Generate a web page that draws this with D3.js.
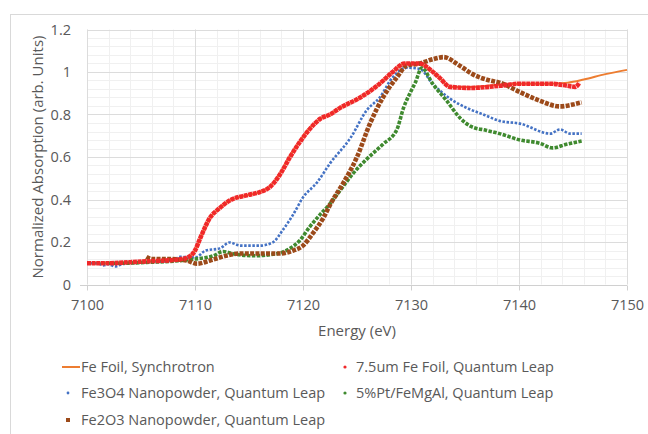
<!DOCTYPE html>
<html><head><meta charset="utf-8">
<script src="https://cdn.jsdelivr.net/npm/d3@7"></script>
<style>
html,body{margin:0;padding:0;background:#fff;}
text{font-family:"Open Sans",sans-serif;fill:#595959;}
</style></head>
<body><svg id="c" width="648" height="434"></svg>
<script>
// ---- data ----
const xTicks = [7100, 7110, 7120, 7130, 7140, 7150];
const yTicks = [0, 0.2, 0.4, 0.6, 0.8, 1, 1.2];
const yTickLabels = ["0", "0.2", "0.4", "0.6", "0.8", "1", "1.2"];

const redE = [7100,7102,7104,7106,7108,7109.2,7110,7110.5,7111.4,7112.3,7113.2,7114.8,7116,7116.9,7117.9,7118.8,7119.7,7120.6,7121.6,7122.5,7123.4,7125.3,7127.1,7128.3,7129.4,7130.8,7131.8,7132.7,7133.6,7135.5,7138.2,7140.1,7142.9,7144.5,7145.2,7145.6];
const redV = [0.10,0.10,0.105,0.11,0.115,0.125,0.16,0.22,0.315,0.36,0.395,0.42,0.435,0.457,0.52,0.60,0.67,0.73,0.78,0.80,0.83,0.88,0.945,1.0,1.04,1.04,1.01,0.97,0.93,0.925,0.935,0.945,0.945,0.935,0.93,0.95];

const orangeE = [7100,7102,7104,7106,7108,7109.2,7110,7110.5,7111.4,7112.3,7113.2,7114.8,7116,7116.9,7117.9,7118.8,7119.7,7120.6,7121.6,7122.5,7123.4,7125.3,7127.1,7128.3,7129.4,7130.8,7131.8,7132.7,7133.6,7135.5,7138.2,7140.1,7142.9,7144.5,7146,7148,7150];
const orangeV = [0.10,0.10,0.105,0.11,0.115,0.125,0.16,0.22,0.315,0.36,0.395,0.42,0.435,0.46,0.525,0.605,0.675,0.735,0.78,0.80,0.83,0.88,0.945,1.0,1.04,1.04,1.01,0.97,0.93,0.93,0.94,0.945,0.945,0.95,0.965,0.99,1.01];

const blueE = [7100,7101,7101.5,7102,7102.6,7103.2,7104,7106,7108,7108.6,7110,7111,7112.3,7113.2,7114.2,7116,7117.2,7118.1,7119.1,7120,7121.3,7122.5,7124.4,7125.9,7127.1,7128.3,7129.6,7130.8,7132,7133.6,7135.2,7136.7,7138.2,7140.1,7142.9,7143.8,7144.7,7145.8];
const blueV = [0.10,0.10,0.09,0.095,0.085,0.095,0.10,0.105,0.115,0.13,0.127,0.16,0.17,0.198,0.183,0.183,0.198,0.254,0.33,0.41,0.48,0.57,0.69,0.82,0.88,0.975,1.02,1.015,0.945,0.875,0.83,0.80,0.77,0.757,0.71,0.73,0.71,0.71];

const greenE = [7100,7103,7106,7108,7110,7111.7,7112.6,7113.5,7115.4,7117.6,7118.8,7119.7,7120.6,7121.6,7122.5,7123.4,7124.6,7125.9,7127.4,7128.7,7129.3,7129.9,7130.4,7131,7132,7133.3,7134.5,7135.5,7137,7138.2,7140.1,7141.9,7143.1,7144.4,7145.8];
const greenV = [0.10,0.10,0.105,0.11,0.12,0.135,0.155,0.145,0.135,0.145,0.17,0.207,0.27,0.33,0.38,0.44,0.52,0.59,0.66,0.73,0.83,0.90,0.95,1.02,0.945,0.865,0.786,0.745,0.725,0.71,0.68,0.665,0.643,0.66,0.675];

const brownE = [7105.5,7106,7107.4,7109.2,7110.2,7111.4,7113,7114.2,7116,7117.9,7119.1,7120,7120.9,7121.9,7122.5,7123.7,7125,7126.2,7127.4,7128.7,7129.6,7130.8,7132,7133,7134.5,7135.7,7137.3,7138.2,7140.1,7141.9,7143.8,7145,7145.8];
const brownV = [0.13,0.12,0.12,0.113,0.098,0.113,0.137,0.146,0.146,0.146,0.16,0.183,0.24,0.315,0.375,0.475,0.60,0.757,0.88,0.975,1.03,1.04,1.06,1.07,1.03,0.99,0.96,0.95,0.905,0.865,0.838,0.847,0.857];

const seriesNames = ["Fe Foil, Synchrotron","7.5um Fe Foil, Quantum Leap","Fe3O4 Nanopowder, Quantum Leap","5%Pt/FeMgAl, Quantum Leap","Fe2O3 Nanopowder, Quantum Leap"];

// ---- drawing ----
const svg = d3.select("#c");
const x = d3.scaleLinear().domain([7100, 7150]).range([87, 627]);
const y = d3.scaleLinear().domain([0, 1.2]).range([284.5, 29.5]);

// chart border
svg.append("rect").attr("x",10.5).attr("y",14.5).attr("width",700).attr("height",500)
  .attr("fill","none").attr("stroke","#d9d9d9");

// minor grid
const g = svg.append("g");
g.selectAll(".mx").data(d3.range(7100, 7150.01, 2)).join("line")
  .attr("x1",d=>Math.round(x(d))+0.5).attr("x2",d=>Math.round(x(d))+0.5)
  .attr("y1",y(0)).attr("y2",y(1.2)).attr("stroke","#f0f0f0");
g.selectAll(".my").data(d3.range(0, 1.2001, 0.04)).join("line")
  .attr("x1",x(7100)).attr("x2",x(7150))
  .attr("y1",d=>Math.round(y(d))+0.5).attr("y2",d=>Math.round(y(d))+0.5).attr("stroke","#f0f0f0");
// major grid
g.selectAll(".Mx").data(xTicks).join("line")
  .attr("x1",d=>Math.round(x(d))+0.5).attr("x2",d=>Math.round(x(d))+0.5)
  .attr("y1",y(0)).attr("y2",y(1.2)).attr("stroke","#dcdcdc");
g.selectAll(".My").data(yTicks.slice(1)).join("line")
  .attr("x1",x(7100)).attr("x2",x(7150))
  .attr("y1",d=>Math.round(y(d))+0.5).attr("y2",d=>Math.round(y(d))+0.5).attr("stroke","#dcdcdc");

// x axis
const xAxis = d3.axisBottom(x).tickValues(xTicks).tickSize(5).tickPadding(9).tickFormat(d3.format("d"));
const ax = svg.append("g").attr("transform",`translate(0,${Math.round(y(0))+0.5})`).call(xAxis);
ax.select(".domain").attr("d",`M80,0H${x(7150)}`).attr("stroke","#d0d0d0");
ax.selectAll(".tick line").attr("stroke","#d0d0d0");
ax.selectAll("text").style("font-size","14.5px").attr("fill","#595959");

// y axis
const yAxis = d3.axisLeft(y).tickValues(yTicks).tickSize(0).tickPadding(16)
  .tickFormat((d,i)=>yTickLabels[i]);
const ay = svg.append("g").attr("transform",`translate(${x(7100)},0)`).call(yAxis);
ay.select(".domain").remove();
ay.selectAll("text").style("font-size","14.5px").attr("fill","#595959");

// titles
svg.append("text").attr("x",357).attr("y",336).attr("text-anchor","middle")
  .style("font-size","15px").text("Energy (eV)");
svg.append("text").attr("transform",`translate(43,${(y(0)+y(1.2))/2}) rotate(-90)`)
  .attr("text-anchor","middle").style("font-size","15px")
  .text("Normalized Absorption (arb. Units)");

// series
const line = d3.line().x(d=>x(d[0])).y(d=>y(d[1])).curve(d3.curveMonotoneX);
const zip = (a,b)=>a.map((v,i)=>[v,b[i]]);
const plot = svg.append("g");
plot.append("path").datum(zip(orangeE,orangeV)).attr("d",line)
  .attr("fill","none").attr("stroke","#ed7d31").attr("stroke-width",2);
plot.append("path").datum(zip(blueE,blueV)).attr("d",line)
  .attr("fill","none").attr("stroke","#4472c4").attr("stroke-width",2.6).attr("stroke-dasharray","2.5,1.6");
plot.append("path").datum(zip(greenE,greenV)).attr("d",line)
  .attr("fill","none").attr("stroke","#3f8a2f").attr("stroke-width",3.6).attr("stroke-dasharray","3.5,1.4");
plot.append("path").datum(zip(brownE,brownV)).attr("d",line)
  .attr("fill","none").attr("stroke","#9c4a1a").attr("stroke-width",4.6).attr("stroke-dasharray","4,1.3");
plot.append("path").datum(zip(redE,redV)).attr("d",line)
  .attr("fill","none").attr("stroke","#f0282a").attr("stroke-width",4.6).attr("stroke-dasharray","4,0.6");

// legend
const lg = svg.append("g").style("font-size","14.5px");
const rows = [367, 393, 420];
lg.append("line").attr("x1",62).attr("x2",80).attr("y1",rows[0]).attr("y2",rows[0])
  .attr("stroke","#ed7d31").attr("stroke-width",2);
lg.append("text").attr("x",81).attr("y",rows[0]).attr("dy","0.35em").text(seriesNames[0]);
lg.append("circle").attr("cx",345).attr("cy",rows[0]).attr("r",1.6).attr("fill","#f0282a");
lg.append("text").attr("x",356).attr("y",rows[0]).attr("dy","0.35em").text(seriesNames[1]);
lg.append("circle").attr("cx",68).attr("cy",rows[1]).attr("r",1.4).attr("fill","#4472c4");
lg.append("text").attr("x",81).attr("y",rows[1]).attr("dy","0.35em").text(seriesNames[2]);
lg.append("circle").attr("cx",345).attr("cy",rows[1]).attr("r",1.6).attr("fill","#3f8a2f");
lg.append("text").attr("x",356).attr("y",rows[1]).attr("dy","0.35em").text(seriesNames[3]);
lg.append("rect").attr("x",66).attr("y",rows[2]-2).attr("width",4).attr("height",4).attr("fill","#9c4a1a");
lg.append("text").attr("x",81).attr("y",rows[2]).attr("dy","0.35em").text(seriesNames[4]);
</script></body></html>
